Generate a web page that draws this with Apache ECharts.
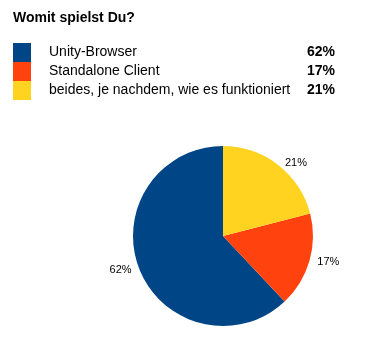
<!DOCTYPE html>
<html>
<head>
<meta charset="utf-8">
<script src="https://cdn.jsdelivr.net/npm/echarts@6/dist/echarts.min.js"></script>
<style>
  html, body { margin: 0; padding: 0; background: #fff; }
  #chart { width: 365px; height: 353px; }
</style>
</head>
<body>
<div id="chart"></div>
<script>
  let categories = ['Unity-Browser', 'Standalone Client', 'beides, je nachdem, wie es funktioniert'];
  let values = [62, 17, 21];
  let colors = ['#004586', '#ff420e', '#ffd320'];

  let chart = echarts.init(document.getElementById('chart'));
  let pieData = categories.map(function (name, i) {
    return { name: name, value: values[i], itemStyle: { color: colors[i] } };
  });

  chart.setOption({
    animation: false,
    title: {
      text: 'Womit spielst Du?',
      left: 8,
      top: 6,
      textStyle: {
        fontFamily: 'Liberation Sans',
        fontSize: 14,
        fontWeight: 'bold',
        color: '#000'
      }
    },
    legend: {
      orient: 'vertical',
      left: 8,
      top: 38,
      itemWidth: 18,
      itemHeight: 19,
      itemGap: 0,
      icon: 'rect',
      selectedMode: false,
      data: categories,
      formatter: function (name) {
        let i = categories.indexOf(name);
        return '{n|' + name + '}{p|' + values[i] + '%}';
      },
      textStyle: {
        fontFamily: 'Liberation Sans',
        fontSize: 14,
        color: '#000',
        rich: {
          n: { width: 238, padding: [0, 0, 0, 13], fontFamily: 'Liberation Sans', fontSize: 14 },
          p: { width: 48, align: 'right', fontWeight: 'bold', fontFamily: 'Liberation Sans', fontSize: 14 }
        }
      }
    },
    series: [{
      type: 'pie',
      center: [223, 236],
      radius: 90,
      startAngle: 90,
      clockwise: false,
      data: pieData,
      label: {
        show: true,
        position: 'outside',
        formatter: '{c}%',
        fontFamily: 'Liberation Sans',
        fontSize: 11,
        color: '#000'
      },
      labelLine: { show: false, length: 3, length2: 0 },
      emphasis: { disabled: true }
    }]
  });
</script>
</body>
</html>
